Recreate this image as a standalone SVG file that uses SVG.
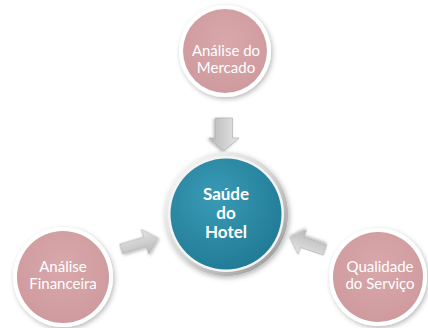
<svg xmlns="http://www.w3.org/2000/svg" width="428" height="328" viewBox="0 0 428 328">
  <defs>
    <filter id="sh" x="-30%" y="-30%" width="160%" height="160%">
      <feDropShadow dx="1.5" dy="2" stdDeviation="2.5" flood-color="#000" flood-opacity="0.28"/>
    </filter>
    <filter id="ash" x="-30%" y="-30%" width="160%" height="160%">
      <feDropShadow dx="1" dy="1.5" stdDeviation="1.5" flood-color="#000" flood-opacity="0.3"/>
    </filter>
    <radialGradient id="pink" cx="50%" cy="40%" r="60%">
      <stop offset="0" stop-color="#d8a8ab"/>
      <stop offset="1" stop-color="#cf9a9e"/>
    </radialGradient>
    <radialGradient id="teal" cx="40%" cy="35%" r="70%">
      <stop offset="0" stop-color="#3a9bb6"/>
      <stop offset="1" stop-color="#207a95"/>
    </radialGradient>
    <linearGradient id="ring" x1="0" y1="0" x2="1" y2="1">
      <stop offset="0" stop-color="#ffffff"/>
      <stop offset="0.5" stop-color="#d6d6d6"/>
      <stop offset="1" stop-color="#8f8f8f"/>
    </linearGradient>
    <linearGradient id="arr" x1="0" y1="0" x2="0" y2="1">
      <stop offset="0" stop-color="#e6e6e6"/>
      <stop offset="1" stop-color="#b8b8b8"/>
    </linearGradient>
  </defs>
  <style>
    .outer{fill:#ffffff;filter:url(#sh)}
    .pinkc{fill:url(#pink)}
    .lbl{font-family:Lato,"Open Sans","Liberation Sans",sans-serif;font-size:15px;fill:#ffffff;text-anchor:middle}
    .big{font-family:Lato,"Open Sans","Liberation Sans",sans-serif;font-size:17px;font-weight:bold;fill:#ffffff;text-anchor:middle}
    .arrow{fill:url(#arr);stroke:#a9a9a9;stroke-width:0.6;filter:url(#ash)}
  </style>
  <rect width="428" height="328" fill="#ffffff"/>

  <g id="connectors">
    <path class="arrow" transform="translate(224,118) rotate(90)" d="M0,-8.5 L20,-8.5 L20,-15 L33,0 L20,15 L20,8.5 L0,8.5 Z"/>
    <path class="arrow" transform="translate(121,249) rotate(-16.6)" d="M0,-5 L25,-5 L25,-13 L38.5,0 L25,13 L25,5 L0,5 Z"/>
    <path class="arrow" transform="translate(325,250) rotate(198.9)" d="M0,-5.5 L24,-5.5 L24,-13 L37,0 L24,13 L24,5.5 L0,5.5 Z"/>
  </g>

  <g id="mercado">
    <circle class="outer" cx="225" cy="51" r="46"/>
    <circle class="pinkc" cx="225" cy="51" r="42"/>
    <text class="lbl" x="226" y="56">Análise do</text>
    <text class="lbl" x="226" y="73">Mercado</text>
  </g>

  <g id="financeira">
    <circle class="outer" cx="63" cy="277" r="50"/>
    <circle class="pinkc" cx="63" cy="277" r="46"/>
    <text class="lbl" x="63" y="272">Análise</text>
    <text class="lbl" x="63" y="289">Financeira</text>
  </g>

  <g id="servico">
    <circle class="outer" cx="378" cy="277" r="49"/>
    <circle class="pinkc" cx="378" cy="277" r="45"/>
    <text class="lbl" x="380" y="272">Qualidade</text>
    <text class="lbl" x="380" y="289">do Serviço</text>
  </g>

  <g id="saude">
    <circle cx="226" cy="214" r="62" fill="url(#ring)" filter="url(#sh)"/>
    <circle cx="226" cy="214" r="58" fill="#f4f4f4"/>
    <circle cx="226" cy="214" r="55.5" fill="url(#teal)"/>
    <text class="big" x="226" y="200">Saúde</text>
    <text class="big" x="226" y="219">do</text>
    <text class="big" x="226" y="238">Hotel</text>
  </g>
</svg>
